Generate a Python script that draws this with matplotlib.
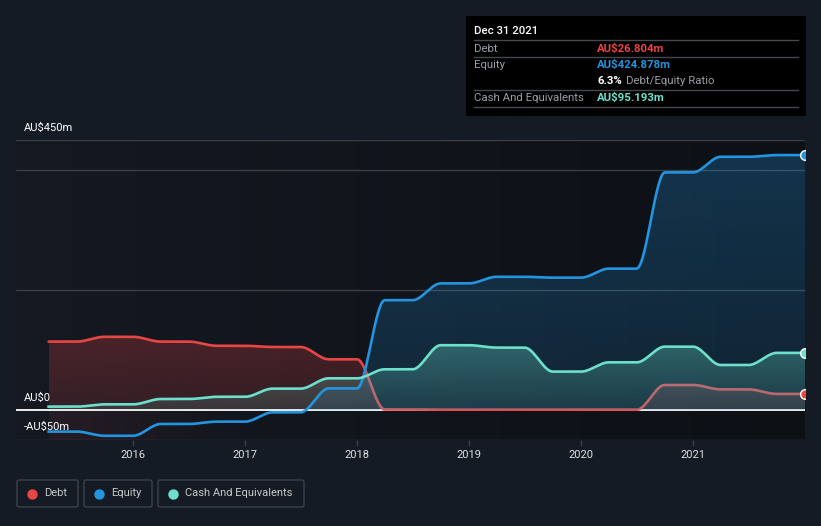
import matplotlib
matplotlib.use('Agg')
import numpy as np
import pandas as pd
import matplotlib.pyplot as plt
from matplotlib.colors import to_rgb
from matplotlib.patches import Rectangle, FancyBboxPatch

plt.rcParams['font.family'] = ['Roboto', 'DejaVu Sans']

# quarter ends, values in AU$m
quarters = pd.date_range('2015-03-31', '2021-12-31', freq='QE')
debt = [114, 114, 122, 122, 114, 114, 107, 107, 105, 105, 84.5, 84.5,
        1, 1, 0.5, 0.5, 0.5, 0.5, 0.5, 0.5, 0.5, 0.5, 41.7, 41.7,
        34.4, 34.4, 26.804, 26.804]
equity = [-36, -36, -43, -43, -23.3, -23.3, -19.4, -19.4, -3.9, -3.9, 36, 36,
          183, 183, 211, 211, 222, 222, 220.6, 220.6, 235.6, 235.6, 396, 396,
          422, 422, 424.878, 424.878]
cash = [5.6, 5.6, 9.4, 9.4, 18.3, 18.3, 22, 22, 35.6, 35.6, 52.8, 52.8,
        67.8, 67.8, 108, 108, 104, 104, 64, 64, 79.4, 79.4, 105.6, 105.6,
        75, 75, 95.193, 95.193]
years = [2016, 2017, 2018, 2019, 2020, 2021]

RED, BLUE, TEAL = '#e84545', '#2394df', '#6ce0cc'
BG = '#151b24'
GRID = '#3a3e45'

x = np.array([d.year + d.dayofyear / (366 if d.is_leap_year else 365) for d in quarters])


def monotone(x, y, n=30):
    # d3 curveMonotoneX style interpolation
    x = np.asarray(x, float); y = np.asarray(y, float)
    h = np.diff(x); s = np.diff(y) / h
    m = np.zeros_like(y)
    for i in range(1, len(y) - 1):
        p = (s[i-1] * h[i] + s[i] * h[i-1]) / (h[i-1] + h[i])
        m[i] = (np.sign(s[i-1]) + np.sign(s[i])) * min(abs(s[i-1]), abs(s[i]), 0.5 * abs(p))
    m[0] = (3 * s[0] - m[1]) / 2
    m[-1] = (3 * s[-1] - m[-2]) / 2
    xs, ys = [], []
    for i in range(len(h)):
        t = np.linspace(0, 1, n, endpoint=(i == len(h) - 1))
        h00 = 2*t**3 - 3*t**2 + 1; h10 = t**3 - 2*t**2 + t
        h01 = -2*t**3 + 3*t**2; h11 = t**3 - t**2
        xs.append(x[i] + t * h[i])
        ys.append(h00*y[i] + h10*h[i]*m[i] + h01*y[i+1] + h11*h[i]*m[i+1])
    return np.concatenate(xs), np.concatenate(ys)


def grad_fill(ax, xs, top, bottom, color, alpha_fn, ylo, yhi, z):
    poly = ax.fill_between(xs, top, bottom, color='none', lw=0, zorder=z)
    ny, nx = 200, 400
    yy, xx = np.meshgrid(np.linspace(ylo, yhi, ny), np.linspace(xs.min(), xs.max(), nx), indexing='ij')
    img = np.zeros((ny, nx, 4))
    img[..., :3] = to_rgb(color)
    img[..., 3] = alpha_fn(xx, yy)
    im = ax.imshow(img, extent=[xs.min(), xs.max(), ylo, yhi], origin='lower',
                   aspect='auto', zorder=z, interpolation='bilinear')
    im.set_clip_path(poly.get_paths()[0], transform=ax.transData)


fig = plt.figure(figsize=(8.21, 5.26), dpi=100, facecolor=BG)
W, H = 821, 526
ax = fig.add_axes([16 / W, 1 - 440 / H, (805 - 16) / W, (440 - 140) / H])
x0, x1 = 2016 + (16 - 133) / 112, 2016 + (805 - 133) / 112
y0, y1 = -50, 450

# plot background, darker to the right
bg = np.zeros((1, 300, 3))
left, right = np.array(to_rgb('#141922')), np.array(to_rgb('#0d1015'))
bg[0] = left + (right - left) * np.linspace(0, 1, 300)[:, None]
ax.imshow(bg, extent=[x0, x1, y0, y1], aspect='auto', zorder=0)

xd, yd = monotone(x, debt)
xe, ye = monotone(x, equity)
xc, yc = monotone(x, cash)

for v in [450, 400, 200, -50]:
    ax.axhline(v, color=GRID, lw=1, zorder=0.5)

xstart = xd.min()
grad_fill(ax, xd, yd, -50, RED,
          lambda xx, yy: np.where(yy >= 0, 0.16 + 0.1 * np.clip(yy, 0, 122) / 122,
                                  0.09 * np.clip(1 - (xx - xstart) / 1.7, 0, 1)),
          -50, 122, 1)
ax.axhline(0, color='white', lw=1.3, zorder=1.5)
ax.plot(xd, yd, color=RED, lw=1.9, zorder=2, solid_capstyle='round')

grad_fill(ax, xe, np.maximum(ye, 0), 0, BLUE,
          lambda xx, yy: 0.15 + 0.12 * yy / 425, 0, 425, 3)
grad_fill(ax, xc, yc, 0, TEAL,
          lambda xx, yy: 0.12 + 0.2 * yy / 108, 0, 108, 4)

ax.plot(xe, ye, color=BLUE, lw=1.9, zorder=5)
ax.plot(xc, yc, color=TEAL, lw=1.9, zorder=6)

for vals, c in [(debt, RED), (equity, BLUE), (cash, TEAL)]:
    ax.plot(x[-1], vals[-1], 'o', ms=7, mfc=c, mec='white', mew=1, zorder=7)

ax.set_xlim(x0, x1)
ax.set_ylim(y0, y1)
for s in ax.spines.values():
    s.set_visible(False)
ax.set_yticks([])
ax.set_xticks(years)
ax.set_xticklabels([str(y) for y in years], color='#e0e0e0', fontsize=8)
ax.tick_params(axis='x', color=GRID, length=4, width=1, pad=3)

# overlay in pixel coordinates for labels, tooltip and legend
ov = fig.add_axes([0, 0, 1, 1], zorder=10)
ov.set_xlim(0, W)
ov.set_ylim(H, 0)
ov.axis('off')
ov.patch.set_alpha(0)

for label, yy in [('AU$450m', 128), ('AU$0', 398), ('-AU$50m', 427)]:
    ov.text(24, yy, label, color='white', fontsize=8, va='center', ha='left')

ov.add_patch(Rectangle((466, 16), 340, 100, fc='black', ec='none'))
ov.text(474, 31, 'Dec 31 2021', color='white', fontsize=8.2, va='center', weight='medium')
for yy in [40, 57, 90, 107]:
    ov.plot([474, 798], [yy, yy], color='#45484d', lw=1)
grey = '#9a9ea5'
rows = [('Debt', 'AU$26.804m', RED, 48.5), ('Equity', 'AU$424.878m', BLUE, 65),
        ('Cash And Equivalents', 'AU$95.193m', TEAL, 98.3)]
for lab, val, c, yy in rows:
    ov.text(474, yy, lab, color=grey, fontsize=8.2, va='center')
    ov.text(597, yy, val, color=c, fontsize=8.2, va='center', weight='bold')
ov.text(597, 81, '6.3%', color='white', fontsize=8.2, va='center', weight='bold')
ov.text(626, 81, 'Debt/Equity Ratio', color=grey, fontsize=8.2, va='center')

legend = [('Debt', RED, 17, 61), ('Equity', BLUE, 84, 68), ('Cash And Equivalents', TEAL, 158, 146)]
for lab, c, lx, lw_ in legend:
    ov.add_patch(FancyBboxPatch((lx, 480), lw_, 27, boxstyle='round,pad=0,rounding_size=2',
                                fc='none', ec='#3c414a', lw=1))
    ov.plot(lx + 14.5, 493.5, 'o', ms=6.5, color=c)
    ov.text(lx + 27, 493.5, lab, color='#c8c8c8', fontsize=8, va='center')

fig.savefig('out.png', dpi=100, facecolor=BG)
